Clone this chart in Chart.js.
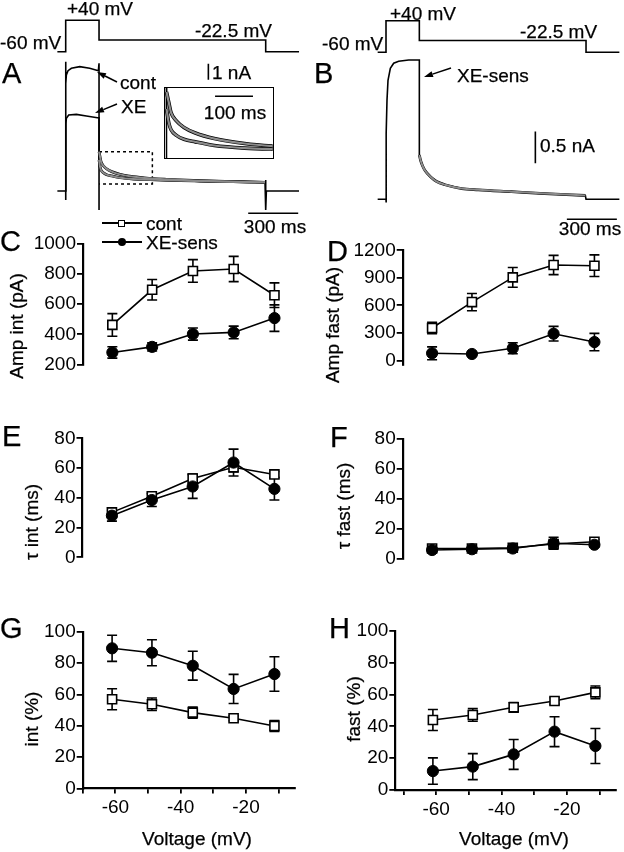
<!DOCTYPE html>
<html>
<head>
<meta charset="utf-8">
<script src="https://cdn.jsdelivr.net/npm/chart.js@4.4.0/dist/chart.umd.min.js"></script>
<style>
body { margin: 0; background: #fff; overflow: hidden; }
#fig { position: relative; width: 624px; height: 852px; font-family: "Liberation Sans", Arial, sans-serif; color: #000; }
#fig canvas { position: absolute; }
.t { position: absolute; font-size: 19px; line-height: 1; white-space: nowrap; -webkit-text-stroke: 0.25px #000; }
</style>
</head>
<body>
<div id="fig"></div>
<script>
// ---------- data ----------
var voltages = [-61, -48.8, -36.3, -23.8, -11.3];

var ampIntCont = [463, 696, 821, 834, 660];
var ampIntContErr = [75, 68, 75, 84, 82];
var ampIntXE = [280, 317, 402, 413, 508];
var ampIntXEErr = [38, 27, 40, 42, 88];

var ampFastCont = [353, 636, 905, 1040, 1032];
var ampFastContErr = [63, 94, 108, 105, 118];
var ampFastXE = [78, 70, 132, 291, 200];
var ampFastXEErr = [70, 22, 60, 80, 95];

var tauIntCont = [30.2, 41, 53, 60.5, 55.7];
var tauIntContErr = [3, 2, 3, 3, 2];
var tauIntXE = [28, 38.5, 47.6, 63.7, 46];
var tauIntXEErr = [3.7, 4.3, 8, 9, 7.5];

var tauFastCont = [7, 7, 7.5, 10, 11.5];
var tauFastContErr = [1, 1, 1, 2, 1.5];
var tauFastXE = [6, 6.5, 7, 10.5, 9.5];
var tauFastXEErr = [1, 1, 1.5, 4, 1.5];

var intPctCont = [56.9, 53.7, 48.4, 44.8, 39.9];
var intPctContErr = [6.7, 4, 3.5, 1.5, 3.5];
var intPctXE = [89.4, 86.6, 78.3, 63.5, 73];
var intPctXEErr = [8.3, 8.3, 9.2, 9.3, 11];

var fastPctCont = [44, 47.2, 52, 56, 61.4];
var fastPctContErr = [6.6, 4, 3, 2, 4];
var fastPctXE = [11.9, 14.7, 22.4, 36.7, 27.7];
var fastPctXEErr = [8.3, 8.2, 9.4, 9.4, 11];

var voltTicks = [-70, -60, -50, -40, -30, -20, -10];
var voltLabels = [-60, -40, -20];

// voltage protocol (ms, mV)
var protoT = [-50, 0, 0, 200, 200, 1200, 1200, 1400];
var protoV = [-60, -60, 40, 40, -22.5, -22.5, -60, -60];

// A: currents (ms, nA)
var aContT = [-50, 0, 0, 0, 1, 4, 14, 34, 84, 144, 196, 200, 200];
var aContI = [0, 0, -0.56, 8.08, 6.7, 7.25, 7.52, 7.67, 7.77, 7.67, 7.52, 7.98, -1.19];
var aXeT = [0, 1, 4, 18, 64, 124, 190, 200];
var aXeI = [0, 4.23, 4.54, 4.75, 4.79, 4.69, 4.58, 4.58];
var aTailT = [200, 206, 212, 226, 246, 276, 326, 406, 506, 606, 806, 1006, 1196];
var aTailCont = [2.46, 2.14, 1.83, 1.58, 1.38, 1.21, 1.04, 0.89, 0.79, 0.73, 0.64, 0.58, 0.54];
var aTailXE = [1.94, 1.52, 1.31, 1.14, 1.02, 0.94, 0.83, 0.75, 0.71, 0.67, 0.62, 0.58, 0.54];
var aEndT = [1200, 1200, 1204, 1400];
var aEndI = [0.69, -1.19, 0, 0];

// B: XE-sensitive current (ms, nA)
var bActT = [-50, 0, 0, 2, 6, 12, 26, 46, 76, 136, 196, 200];
var bActI = [0, 0, -0.05, 1.04, 1.57, 1.88, 2.07, 2.15, 2.18, 2.2, 2.2, 2.2];
var bTailT = [200, 207, 219, 235, 265, 304, 354, 454, 553, 752, 951, 1196];
var bTailI = [0.7, 0.62, 0.53, 0.45, 0.36, 0.28, 0.23, 0.17, 0.15, 0.12, 0.09, 0.06];
var bEndT = [1200, 1400];
var bEndI = [0, 0];

// scale bars and zoom box
var aBarT = [1095, 1395], aBarI = [-1.39, -1.39];
var aNaT = [856, 856], aNaI = [6.95, 7.95];
var boxT = [200, 520, 520, 200], boxI = [2.46, 2.46, 0.44, 0.44];
var insetBarT = [328, 428], insetBarI = [2.33, 2.33];
var bBarT = [1085, 1385], bBarI = [-0.316, -0.316];
var bNaT = [896, 896], bNaI = [0.57, 1.07];

// ---------- helpers ----------
var fig = document.getElementById('fig');

Chart.defaults.font.family = '"Liberation Sans", Arial, sans-serif';
Chart.defaults.font.size = 19;
Chart.defaults.color = '#000';
Chart.defaults.animation = false;
Chart.defaults.events = [];
Chart.defaults.plugins.legend.display = false;
Chart.defaults.plugins.tooltip.enabled = false;

function pts(xs, ys) {
  return xs.map(function (x, i) { return { x: x, y: ys[i] }; });
}

function place(area, m) {
  var left = Math.floor(area[0] - m[0]), top = Math.floor(area[1] - m[1]);
  var right = Math.ceil(area[2] + m[2]), bottom = Math.ceil(area[3] + m[3]);
  var cv = document.createElement('canvas');
  cv.width = right - left; cv.height = bottom - top;
  cv.style.left = left + 'px'; cv.style.top = top + 'px';
  fig.appendChild(cv);
  return { cv: cv, pad: { left: area[0] - left, top: area[1] - top, right: right - area[2], bottom: bottom - area[3] } };
}

var errorBars = {
  id: 'errorBars',
  beforeDatasetsDraw: function (chart) {
    var ctx = chart.ctx, xs = chart.scales.x, ys = chart.scales.y;
    chart.data.datasets.forEach(function (ds) {
      if (!ds.err) return;
      ctx.save();
      ctx.strokeStyle = '#000';
      ctx.lineWidth = 1.6;
      ds.data.forEach(function (p, i) {
        var x = xs.getPixelForValue(p.x);
        var t = ys.getPixelForValue(p.y + ds.err[i]);
        var b = ys.getPixelForValue(p.y - ds.err[i]);
        ctx.beginPath();
        ctx.moveTo(x, t); ctx.lineTo(x, b);
        ctx.moveTo(x - 5, t); ctx.lineTo(x + 5, t);
        ctx.moveTo(x - 5, b); ctx.lineTo(x + 5, b);
        ctx.stroke();
      });
      ctx.restore();
    });
  }
};

function dotChart(area, xMin, yMin, yMax, yMajor, yMinor, cont, contErr, xe, xeErr, withX) {
  var xh = withX ? 40 : 0;
  var p = place(area, [66, 14, 4, 14 + xh]);
  var yTicks = yMajor.concat(yMinor).sort(function (a, b) { return a - b; });
  new Chart(p.cv, {
    type: 'line',
    data: {
      datasets: [
        { data: pts(voltages, xe), err: xeErr, order: 1, borderColor: '#000', borderWidth: 1.6,
          pointStyle: 'circle', pointRadius: 5.6, pointBackgroundColor: '#000', pointBorderColor: '#000', pointBorderWidth: 1 },
        { data: pts(voltages, cont), err: contErr, order: 2, borderColor: '#000', borderWidth: 1.6,
          pointStyle: 'rect', pointRadius: 6.4, pointBackgroundColor: '#fff', pointBorderColor: '#000', pointBorderWidth: 1.6 }
      ]
    },
    options: {
      responsive: false,
      layout: { padding: { left: p.pad.left - 60, top: p.pad.top, right: p.pad.right, bottom: p.pad.bottom - xh } },
      scales: {
        x: {
          type: 'linear', min: xMin, max: -5, display: withX,
          afterBuildTicks: function (s) { s.ticks = voltTicks.map(function (v) { return { value: v }; }); },
          afterFit: function (s) { s.height = 40; },
          ticks: { autoSkip: false, maxRotation: 0, padding: 3,
            callback: function (v) { return voltLabels.indexOf(v) >= 0 ? String(v) : ''; } },
          grid: { drawOnChartArea: false, tickLength: 5, color: '#000', lineWidth: 1.8 },
          border: { color: '#000', width: 2.2 }
        },
        y: {
          min: yMin, max: yMax,
          afterBuildTicks: function (s) { s.ticks = yTicks.map(function (v) { return { value: v }; }); },
          afterFit: function (s) { s.width = 60; },
          ticks: { padding: 1,
            callback: function (v) { return yMajor.indexOf(v) >= 0 ? String(v) : ''; } },
          grid: { drawOnChartArea: false, tickLength: 6, color: '#000', lineWidth: 1.8 },
          border: { color: '#000', width: 2.2 }
        }
      }
    },
    plugins: [errorBars]
  });
}

// gray fit curves get the lowest order so they are painted on top of the black traces
function trace(xs, ys, color, width, smooth, dash) {
  return { data: pts(xs, ys), borderColor: color, borderWidth: width, pointRadius: 0,
    order: color === '#000' ? 1 : 0,
    cubicInterpolationMode: smooth ? 'monotone' : 'default', borderDash: dash || [], clip: 0 };
}

function traceChart(area, xr, yr, datasets) {
  var p = place(area, [2, 2, 2, 2]);
  new Chart(p.cv, {
    type: 'line',
    data: { datasets: datasets },
    options: {
      responsive: false,
      layout: { padding: p.pad },
      elements: { line: { tension: 0 } },
      scales: {
        x: { type: 'linear', display: false, min: xr[0], max: xr[1] },
        y: { display: false, min: yr[0], max: yr[1] }
      }
    }
  });
}

function txt(s, x, y, anchor, size) {
  var d = document.createElement('div');
  d.className = 't';
  d.textContent = s;
  d.style.left = x + 'px'; d.style.top = y + 'px';
  if (size) d.style.fontSize = size + 'px';
  var tx = anchor === 'c' ? '-50%' : anchor === 'r' ? '-100%' : '0';
  d.style.transform = 'translate(' + tx + ',-50%)';
  fig.appendChild(d);
}

function vtxt(s, x, y) {
  var d = document.createElement('div');
  d.className = 't';
  d.textContent = s;
  d.style.left = x + 'px'; d.style.top = y + 'px';
  d.style.transform = 'translate(-50%,-50%) rotate(-90deg)';
  fig.appendChild(d);
}

// ---------- A and B traces ----------
var contFull = { t: aContT.concat([200], aTailT.slice(1), aEndT), i: aContI.concat([2.46], aTailCont.slice(1), aEndI) };
var xeFull = { t: aXeT.concat(aTailT), i: aXeI.concat(aTailXE) };

traceChart([15.7, 14, 315.7, 58], [-300, 1500], [-80, 60], [trace(protoT, protoV, '#000', 1.6)]);
traceChart([15.7, 47, 315.7, 215], [-300, 1500], [-1.5, 9], [
  trace(xeFull.t, xeFull.i, '#000', 1.6),
  trace(contFull.t, contFull.i, '#000', 1.6),
  trace(aTailT, aTailCont, '#000', 2.8, true),
  trace(aTailT, aTailXE, '#000', 2.8, true),
  trace(aTailT, aTailCont, '#8c8c8c', 2, true),
  trace(aTailT, aTailXE, '#8c8c8c', 2, true),
  trace(boxT, boxI, '#000', 1.5, false, [3, 3]),
  trace(aBarT, aBarI, '#000', 1.6),
  trace(aNaT, aNaI, '#000', 1.6)
]);
traceChart([165, 87.3, 272.7, 158.3], [196, 480], [0.44, 2.6], [
  trace(contFull.t, contFull.i, '#000', 1.5),
  trace(xeFull.t, xeFull.i, '#000', 1.5),
  trace(aTailT, aTailCont, '#000', 3.6, true),
  trace(aTailT, aTailXE, '#000', 3.6, true),
  trace(aTailT, aTailCont, '#8c8c8c', 2.2, true),
  trace(aTailT, aTailXE, '#8c8c8c', 2.2, true),
  trace(insetBarT, insetBarI, '#000', 1.5)
]);
var box = document.createElement('div');
box.style.cssText = 'position:absolute;left:164px;top:86.5px;width:109.5px;height:72.6px;border:1.5px solid #000;box-sizing:border-box;';
fig.appendChild(box);

traceChart([336, 14.4, 622.7, 58.6], [-300, 1420], [-80, 60], [trace(protoT, protoV, '#000', 1.6)]);
traceChart([336, 47.4, 622.7, 224.6], [-300, 1420], [-0.4, 2.4], [
  trace(bActT.concat(bTailT, bEndT), bActI.concat(bTailI, bEndI), '#000', 1.6),
  trace(bTailT, bTailI, '#000', 2.8, true),
  trace(bTailT, bTailI, '#8c8c8c', 2, true),
  trace(bBarT, bBarI, '#000', 1.6),
  trace(bNaT, bNaI, '#000', 1.6)
]);

// ---------- C to H ----------
dotChart([83, 244, 298.8, 404.5], -70, 200, 1000, [200, 400, 600, 800, 1000], [300, 500, 700, 900],
  ampIntCont, ampIntContErr, ampIntXE, ampIntXEErr, false);
dotChart([402.7, 250.3, 618.5, 405], -70, -50, 1200, [0, 300, 600, 900, 1200], [],
  ampFastCont, ampFastContErr, ampFastXE, ampFastXEErr, false);
dotChart([82.5, 438.3, 298.3, 597.3], -70, 0, 80, [0, 20, 40, 60, 80], [10, 30, 50, 70],
  tauIntCont, tauIntContErr, tauIntXE, tauIntXEErr, false);
dotChart([402.7, 439, 618.5, 599], -70, 0, 80, [0, 20, 40, 60, 80], [10, 30, 50, 70],
  tauFastCont, tauFastContErr, tauFastXE, tauFastXEErr, false);
dotChart([82.7, 631.7, 298.5, 788.5], -70, 0, 100, [0, 20, 40, 60, 80, 100], [],
  intPctCont, intPctContErr, intPctXE, intPctXEErr, true);
dotChart([395.3, 631, 619.4, 790], -72.5, 0, 100, [0, 20, 40, 60, 80, 100], [],
  fastPctCont, fastPctContErr, fastPctXE, fastPctXEErr, true);

// ---------- text ----------
txt('-60 mV', 0, 42, 'l');
txt('+40 mV', 67, 8, 'l');
txt('-22.5 mV', 272, 30, 'r');
txt('-60 mV', 322, 43, 'l');
txt('+40 mV', 390, 13, 'l');
txt('-22.5 mV', 520, 31, 'l');
txt('A', 2, 73, 'l', 29);
txt('B', 314, 73, 'l', 29);
txt('cont', 120, 82, 'l');
txt('XE', 121, 106, 'l');
txt('XE-sens', 457, 75, 'l');
txt('1 nA', 212, 72, 'l');
txt('100 ms', 235, 112, 'c');
txt('0.5 nA', 540, 145, 'l');
txt('300 ms', 275, 226, 'c');
txt('300 ms', 590, 228, 'c');
txt('C', 0, 241, 'l', 29);
txt('D', 327, 251, 'l', 29);
txt('E', 2, 436, 'l', 29);
txt('F', 330, 437, 'l', 29);
txt('G', 0, 628, 'l', 29);
txt('H', 329, 628, 'l', 29);
vtxt('Amp int (pA)', 16, 326);
vtxt('Amp fast (pA)', 332, 325);
vtxt('\u03c4 int (ms)', 31, 522);
vtxt('\u03c4 fast (ms)', 343, 506);
vtxt('int (%)', 31, 719);
vtxt('fast (%)', 353, 709);
txt('Voltage (mV)', 197, 838, 'c');
txt('Voltage (mV)', 514, 838, 'c');

// legend
function legendRow(y, filled, label) {
  var ln = document.createElement('div');
  ln.style.cssText = 'position:absolute;left:102px;width:40px;height:1.5px;background:#000;top:' + (y - 0.75) + 'px;';
  fig.appendChild(ln);
  var s = document.createElement('div');
  if (filled) {
    s.style.cssText = 'position:absolute;left:117.5px;width:8px;height:8px;border-radius:50%;background:#000;top:' + (y - 4) + 'px;';
  } else {
    s.style.cssText = 'position:absolute;left:118px;width:7px;height:7px;background:#fff;border:1.3px solid #000;box-sizing:border-box;top:' + (y - 3.5) + 'px;';
  }
  fig.appendChild(s);
  txt(label, 146, y, 'l');
}
legendRow(223, false, 'cont');
legendRow(242, true, 'XE-sens');

// arrows
var svgNS = 'http://www.w3.org/2000/svg';
var svg = document.createElementNS(svgNS, 'svg');
svg.setAttribute('width', 624); svg.setAttribute('height', 852);
svg.style.cssText = 'position:absolute;left:0;top:0;';
fig.appendChild(svg);
function arrow(x1, y1, x2, y2) {
  var a = Math.atan2(y2 - y1, x2 - x1), L = 9, W = 3;
  var bx = x2 - L * Math.cos(a), by = y2 - L * Math.sin(a);
  var ln = document.createElementNS(svgNS, 'line');
  ln.setAttribute('x1', x1); ln.setAttribute('y1', y1);
  ln.setAttribute('x2', bx); ln.setAttribute('y2', by);
  ln.setAttribute('stroke', '#000'); ln.setAttribute('stroke-width', 1.5);
  svg.appendChild(ln);
  var hd = document.createElementNS(svgNS, 'polygon');
  hd.setAttribute('points', x2 + ',' + y2 + ' ' + (bx + W * Math.sin(a)) + ',' + (by - W * Math.cos(a)) + ' ' + (bx - W * Math.sin(a)) + ',' + (by + W * Math.cos(a)));
  hd.setAttribute('fill', '#000');
  svg.appendChild(hd);
}
arrow(117, 82, 97, 72);
arrow(117, 104, 95, 113);
arrow(451, 68, 424, 77);
</script>
</body>
</html>
